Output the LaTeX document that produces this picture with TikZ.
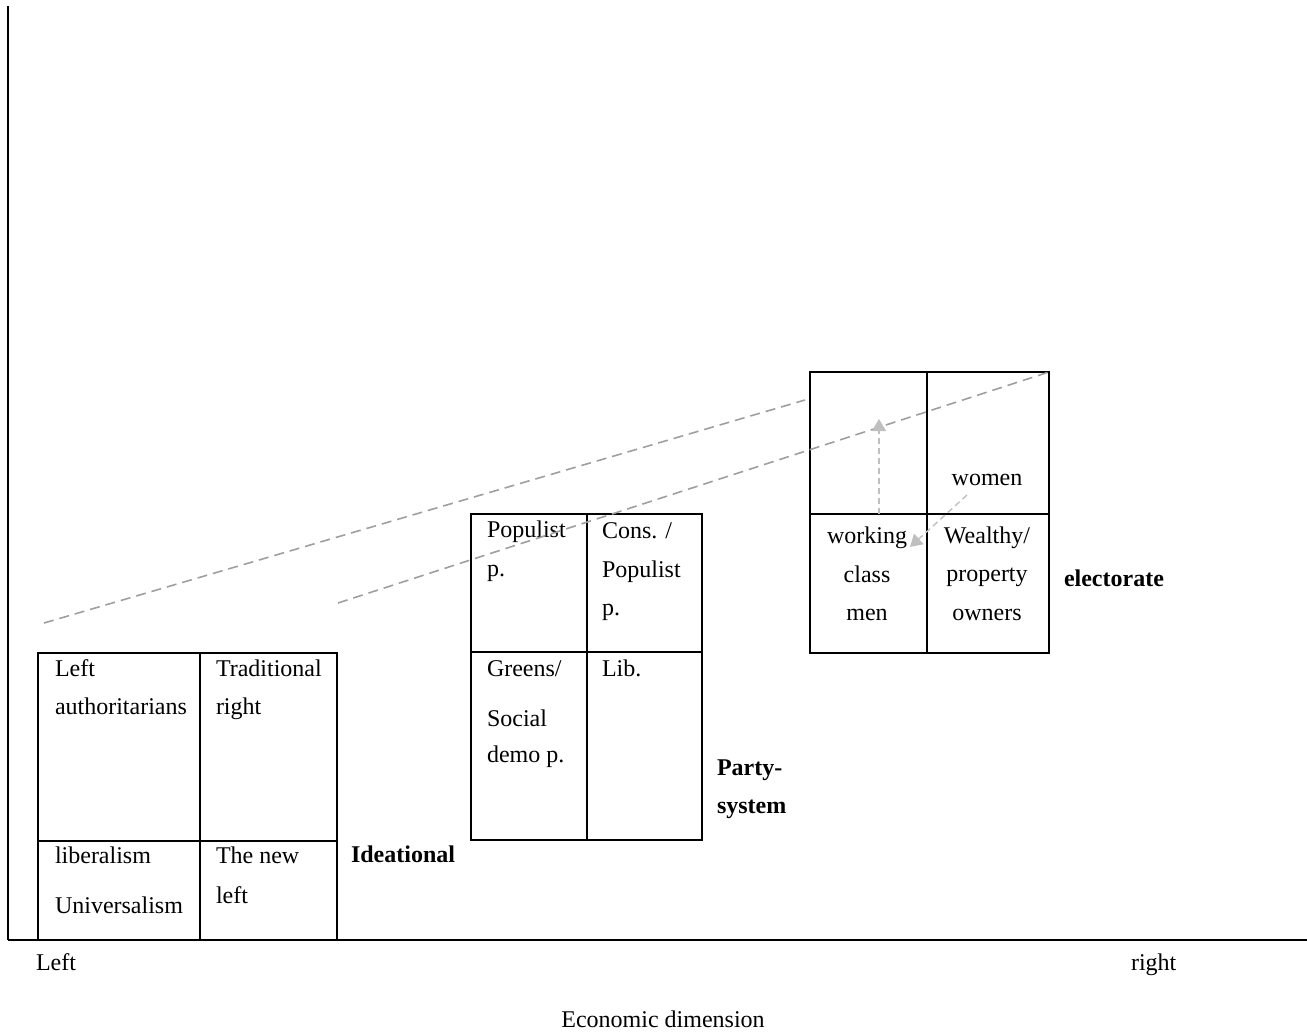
\documentclass[tikz,border=0pt]{standalone}
\usepackage{fontspec}
\setmainfont{Liberation Serif}
\usetikzlibrary{arrows.meta}
\tikzset{
  cell/.style={anchor=base west,inner sep=0pt},
  ccell/.style={anchor=base,inner sep=0pt},
  level/.style={anchor=base west,inner sep=0pt,font=\fontsize{12pt}{14pt}\selectfont\bfseries},
  proj/.style={draw=gray!75,line width=0.8pt,dash pattern=on 5pt off 3pt},
  moveline/.style={draw=gray!50,line width=0.7pt,dash pattern=on 3pt off 2pt,
    -{Triangle[length=6pt,width=7pt,fill=gray!50]}}
}
\begin{document}
\begin{tikzpicture}[x=0.5pt,y=-0.5pt,line width=1pt,font=\fontsize{12pt}{14pt}\selectfont]
\useasboundingbox (0,0) rectangle (1307,1034);
% axes
\draw (8,6)--(8,940);
\draw (8,940)--(1307,940);
\node[cell] (eleft) at (35,970) {Left};
\node[cell] (eright) at (1130,970) {right};
\node[ccell] (econ) at (663,1027) {Economic dimension};
% ideational box
\draw (38,653) rectangle (337,940);
\draw (200,653)--(200,940);
\draw (38,841)--(337,841);
\node[cell] (ila) at (54,676) {Left};
\node[cell] (ilb) at (54,714) {authoritarians};
\node[cell] (ira) at (215,676) {Traditional};
\node[cell] (irb) at (215,714) {right};
\node[cell] (ilc) at (54,863) {liberalism};
\node[cell] (ild) at (54,913) {Universalism};
\node[cell] (irc) at (215,863) {The new};
\node[cell] (ird) at (215,903) {left};
\node[level] (ideational) at (350,862) {Ideational};
% party-system box
\draw (471,514) rectangle (702,840);
\draw (587,514)--(587,840);
\draw (471,652)--(702,652);
\node[cell] (pla) at (486,537) {Populist};
\node[cell] (plb) at (486,576) {p.};
\node[cell] (pra) at (601,538) {Cons. /};
\node[cell] (prb) at (601,577) {Populist};
\node[cell] (prc) at (601,615) {p.};
\node[cell] (plc) at (486,676) {Greens/};
\node[cell] (pld) at (486,726) {Social};
\node[cell] (ple) at (486,762) {demo p.};
\node[cell] (prd) at (601,676) {Lib.};
\node[level] (partya) at (716,775) {Party-};
\node[level] (partyb) at (716,813) {system};
% electorate box
\draw (810,372) rectangle (1049,653);
\draw (927,372)--(927,653);
\draw (810,514)--(1049,514);
\node[ccell] (women) at (987,485) {women};
\node[ccell] (wca) at (867,543) {working};
\node[ccell] (wcb) at (867,582) {class};
\node[ccell] (wcc) at (867,620) {men};
\node[ccell] (wpa) at (987,543) {Wealthy/};
\node[ccell] (wpb) at (987,581) {property};
\node[ccell] (wpc) at (987,620) {owners};
\node[level] (electorate) at (1063,586) {electorate};
% projection lines
\coordinate (proja) at (44,623);
\coordinate (projb) at (805,400);
\coordinate (projc) at (338,603);
\coordinate (projd) at (1049,372);
\draw[proj] (proja)--(projb);
\draw[proj] (projc)--(projd);
% shifts
\coordinate (wcbase) at (879,514);
\coordinate (wcup) at (879,419);
\coordinate (wbase) at (967,495);
\coordinate (wtip) at (910,547);
\draw[moveline] (wcbase)--(wcup);
\draw[moveline] (wbase)--(wtip);
\end{tikzpicture}
\end{document}
